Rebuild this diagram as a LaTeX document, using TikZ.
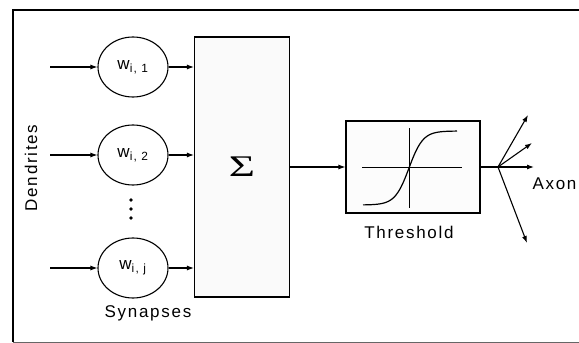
\documentclass[tikz,border=0pt]{standalone}
\usepackage{fontspec}
\setmainfont{Liberation Sans}[LetterSpace=10]
\newfontfamily\sigmafont{Liberation Serif}
\usepackage{graphicx}
\usetikzlibrary{arrows.meta,shapes.geometric}
\begin{document}
\begin{tikzpicture}[x=1pt,y=1pt,
  wire/.style={line width=1.1pt,-{Latex[length=7pt,width=5pt]}},
  synapse/.style={ellipse,draw,line width=1.1pt,minimum width=70pt,minimum height=60pt,inner sep=0pt,font=\fontsize{17}{20}\selectfont},
  label/.style={font=\fontsize{17}{20}\selectfont}]
\useasboundingbox (0,0) rectangle (579,343);
% Draw outer frame (cut at right and bottom)
\draw[line width=1.6pt] (579,333) -- (13,333) -- (13,1);
\draw[line width=0.6pt, black!60] (13,1) -- (579,1);
% Draw synapse weights
\node[synapse] (w1) at (133,276) {w\textsubscript{i, 1}};
\node[synapse] (w2) at (133,188) {w\textsubscript{i, 2}};
\node[synapse] (wj) at (133,75) {w\textsubscript{i, j}};
\foreach \y in {143,134,125} \fill (131,\y) circle (1.9);
% Draw summation box
\node[draw,line width=1.1pt,fill=black!2,minimum width=95pt,minimum height=260pt,inner sep=0pt] (sum) at (242,176) {\scalebox{1.5}[1]{\fontsize{30}{30}\sigmafont Σ}};
% Draw threshold box with sigmoid
\node[draw,line width=1.1pt,fill=black!1,minimum width=134pt,minimum height=92pt] (thresh) at (413,176) {};
\draw[line width=1pt] (362,175) -- (462,175);
\draw[line width=1pt] (409,135) -- (409,215);
\draw[line width=1.2pt] plot[domain=-46:48,samples=60] ({409+\x},{175+37*tanh(\x/14)});
% Dendrite inputs
\coordinate (in1) at (50,276);
\coordinate (in2) at (50,188);
\coordinate (inj) at (50,75);
\draw[wire] (in1) -- (w1);
\draw[wire] (in2) -- (w2);
\draw[wire] (inj) -- (wj);
% Weights into the sum
\draw[wire] (w1.east) -- (w1.east -| sum.west);
\draw[wire] (w2.east) -- (w2.east -| sum.west);
\draw[wire] (wj.east) -- (wj.east -| sum.west);
% Sum to threshold
\draw[wire] (sum.east |- thresh.west) -- (thresh.west);
% Axon branches
\coordinate (branch) at (498,176);
\coordinate (ax1) at (528,228);
\coordinate (ax2) at (532,200);
\coordinate (ax3) at (534,176);
\coordinate (ax4) at (527,100);
\draw[line width=1.1pt] (thresh.east) -- (branch);
\foreach \a in {ax1,ax2,ax3,ax4} \draw[wire] (branch) -- (\a);
% Labels
\node[label,rotate=90] (dendr) at (31,175) {Dendrites};
\node[label] (syn) at (148,30) {Synapses};
\node[label] (thr) at (409,111) {Threshold};
\node[label,anchor=west] (axon) at (529,159) {Axon};
\end{tikzpicture}
\end{document}
